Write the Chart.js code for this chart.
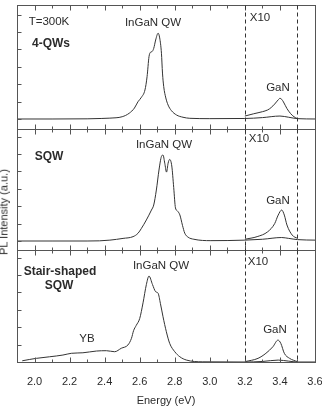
<!DOCTYPE html>
<html><head><meta charset="utf-8">
<script src="https://cdn.jsdelivr.net/npm/chart.js@4.4.1/dist/chart.umd.min.js"></script>
<style>
html,body{margin:0;padding:0;background:#fff;}
#wrap{position:relative;width:322px;height:410px;overflow:hidden;font-family:"Liberation Sans",Arial,sans-serif;color:#2b2b2b;}
canvas{position:absolute;left:0;top:0;}
.t{position:absolute;transform:translate(-50%,-50%);white-space:nowrap;font-size:11.5px;line-height:1;}
.b{font-weight:bold;font-size:12px;}
.r{transform:translate(-50%,-50%) rotate(-90deg);font-size:11px;}
</style></head><body>
<div id="wrap">
<canvas id="c1" width="322" height="410"></canvas>
<canvas id="c2" width="322" height="410"></canvas>
<canvas id="c3" width="322" height="410"></canvas>
<div class="t" style="left:49px;top:22px">T=300K</div>
<div class="t b" style="left:51px;top:43px">4-QWs</div>
<div class="t" style="left:153px;top:23px">InGaN QW</div>
<div class="t" style="left:260px;top:18px">X10</div>
<div class="t" style="left:278px;top:88px">GaN</div>
<div class="t b" style="left:49px;top:156px">SQW</div>
<div class="t" style="left:164px;top:145px">InGaN QW</div>
<div class="t" style="left:259px;top:139px">X10</div>
<div class="t" style="left:278px;top:201px">GaN</div>
<div class="t b" style="left:60px;top:271px">Stair-shaped</div>
<div class="t b" style="left:59px;top:285px">SQW</div>
<div class="t" style="left:161px;top:266px">InGaN QW</div>
<div class="t" style="left:258px;top:262px">X10</div>
<div class="t" style="left:275px;top:330px">GaN</div>
<div class="t" style="left:87px;top:339px">YB</div>
<div class="t r" style="left:4px;top:212px">PL Intensity (a.u.)</div>
</div>
<script>
// ---- data (energy in eV, intensity in arbitrary units) ----
const xTicks = [2.0, 2.2, 2.4, 2.6, 2.8, 3.0, 3.2, 3.4, 3.6];
const x10Bounds = [3.2, 3.5];

// 4-QWs
const qw4E = [1.90, 2.10, 2.30, 2.38, 2.43, 2.50, 2.54, 2.57, 2.59, 2.61, 2.63, 2.642, 2.653, 2.661, 2.670, 2.680, 2.691, 2.705, 2.714, 2.724, 2.730, 2.737, 2.749, 2.762, 2.781, 2.810, 2.847, 2.886, 3.00, 3.20, 3.30, 3.40, 3.45, 3.50, 3.60];
const qw4I = [0, 0, 0.01, 0.03, 0.05, 0.13, 0.33, 0.63, 0.99, 1.25, 1.67, 2.43, 3.58, 3.83, 3.87, 4.06, 4.54, 4.93, 4.66, 3.78, 2.64, 1.86, 1.21, 0.80, 0.48, 0.23, 0.10, 0.04, 0.02, 0.03, 0.08, 0.17, 0.10, 0.02, 0.0];
const qw4x10E = [3.20, 3.25, 3.30, 3.33, 3.35, 3.37, 3.39, 3.40, 3.41, 3.42, 3.44, 3.46, 3.48, 3.50];
const qw4x10I = [0.17, 0.30, 0.42, 0.52, 0.66, 0.86, 1.10, 1.19, 1.13, 0.98, 0.60, 0.32, 0.13, 0.02];

// SQW
const sqwE = [1.90, 2.10, 2.30, 2.37, 2.43, 2.505, 2.562, 2.59, 2.61, 2.638, 2.667, 2.68, 2.695, 2.71, 2.724, 2.733, 2.743, 2.753, 2.762, 2.771, 2.783, 2.794, 2.804, 2.813, 2.829, 2.844, 2.857, 2.876, 2.909, 3.006, 3.20, 3.30, 3.41, 3.45, 3.50, 3.60];
const sqwI = [0, 0, 0, 0.01, 0.05, 0.15, 0.25, 0.44, 0.73, 1.21, 1.78, 2.07, 2.93, 4.08, 4.86, 4.94, 4.47, 3.96, 4.47, 4.69, 4.31, 3.07, 1.90, 1.75, 1.50, 0.90, 0.45, 0.22, 0.10, 0.02, 0.05, 0.10, 0.20, 0.15, 0.08, 0.05];
const sqwx10E = [3.20, 3.27, 3.33, 3.37, 3.39, 3.41, 3.425, 3.44, 3.47, 3.50];
const sqwx10I = [0.10, 0.25, 0.53, 1.00, 1.49, 1.78, 1.49, 0.92, 0.34, 0.15];

// Stair-shaped SQW
const stairE = [1.93, 2.01, 2.086, 2.162, 2.21, 2.276, 2.353, 2.41, 2.457, 2.495, 2.533, 2.553, 2.565, 2.58, 2.60, 2.619, 2.638, 2.653, 2.673, 2.691, 2.705, 2.718, 2.733, 2.752, 2.771, 2.80, 2.829, 2.867, 2.96, 3.20, 3.30, 3.39, 3.45, 3.50, 3.60];
const stairI = [0.07, 0.21, 0.30, 0.40, 0.50, 0.53, 0.63, 0.65, 0.59, 0.79, 0.98, 1.36, 1.80, 2.10, 2.50, 3.40, 4.45, 4.94, 4.45, 4.04, 3.95, 3.37, 2.60, 1.74, 1.07, 0.59, 0.30, 0.11, 0.01, 0.0, 0.03, 0.11, 0.05, 0.0, 0.0];
const stairx10E = [3.20, 3.275, 3.32, 3.36, 3.389, 3.405, 3.425, 3.455, 3.50];
const stairx10I = [0.02, 0.21, 0.50, 0.88, 1.26, 1.07, 0.50, 0.21, 0.02];

// ---- drawing ----
const LINE = '#333333', AXIS = '#555555';
const FONT = '"Liberation Sans", Arial, sans-serif';

const decor = {
  id: 'decor',
  afterDatasetsDraw(chart) {
    const {ctx, chartArea: a, scales: {x, y}} = chart;
    const L = Math.round(a.left) + 0.5, R = Math.round(a.right) + 0.5;
    const T = Math.round(a.top) + 0.5, B = Math.round(a.bottom) + 0.5;
    const seg = (x1, y1, x2, y2) => { ctx.beginPath(); ctx.moveTo(x1, y1); ctx.lineTo(x2, y2); ctx.stroke(); };
    ctx.save();
    ctx.strokeStyle = AXIS; ctx.lineWidth = 1;
    ctx.strokeRect(L, T, R - L, B - T);
    for (let i = 0; i <= 15; i++) {
      const v = 2.0 + 0.1 * i;
      const px = Math.round(x.getPixelForValue(v)) + 0.5;
      const len = (i % 2 === 0) ? 5 : 3;
      seg(px, T, px, T + len);
      seg(px, B, px, B - len);
    }
    for (let k = 0; k <= 6; k++) {
      const py = Math.round(y.getPixelForValue(k)) + 0.5;
      if (py > T && py <= B) seg(L, py, L + 4, py);
    }
    ctx.setLineDash([4, 3]);
    ctx.strokeStyle = '#333';
    x10Bounds.forEach(v => {
      const px = Math.round(x.getPixelForValue(v)) + 0.5;
      seg(px, T, px, B);
    });
    ctx.restore();
  }
};

function makePanel(id, top, bottom, yMin, yMax, mE, mI, hE, hI, showX) {
  const toXY = (e, v) => e.map((xv, i) => ({x: xv, y: v[i]}));
  const ds = d => ({data: d, borderColor: LINE, borderWidth: 1, pointRadius: 0, cubicInterpolationMode: 'monotone', fill: false});
  return new Chart(document.getElementById(id), {
    type: 'line',
    data: {datasets: [ds(toXY(mE, mI)), ds(toXY(hE, hI))]},
    options: {
      responsive: false, animation: false, devicePixelRatio: 1, events: [],
      layout: {padding: {left: 17, right: 7, top: top, bottom: showX ? 0 : 410 - bottom}},
      plugins: {legend: {display: false}, tooltip: {enabled: false}},
      scales: {
        x: {
          type: 'linear', min: 1.9, max: 3.6, display: showX,
          grid: {display: false, drawTicks: false}, border: {display: false},
          ticks: {color: '#2b2b2b', font: {family: FONT, size: 11}, padding: 13, maxRotation: 0, autoSkip: false,
                  callback: v => Number(v).toFixed(1)},
          title: {display: true, text: 'Energy (eV)', color: '#2b2b2b', font: {family: FONT, size: 11}, padding: {top: 0, bottom: 2}},
          afterBuildTicks: s => { s.ticks = xTicks.map(v => ({value: v})); },
          afterFit: s => { if (showX) { s.height = 410 - bottom; s.paddingLeft = 0; s.paddingRight = 0; } }
        },
        y: {min: yMin, max: yMax, display: false}
      }
    },
    plugins: [decor]
  });
}

makePanel('c1', 5, 129, -0.575, 6.552, qw4E, qw4I, qw4x10E, qw4x10I, false);
makePanel('c2', 129, 250, -0.517, 6.437, sqwE, sqwI, sqwx10E, sqwx10I, false);
makePanel('c3', 250, 362, 0, 6.437, stairE, stairI, stairx10E, stairx10I, true);
</script>
</body></html>
